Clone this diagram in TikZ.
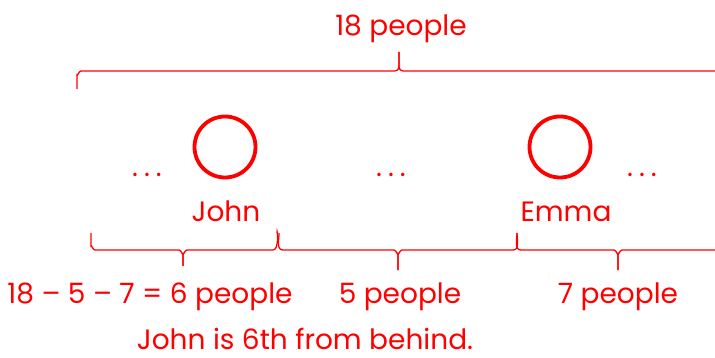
\documentclass[tikz,border=0pt]{standalone}
\usepackage{fontspec}
\setmainfont{Poppins}
\definecolor{cred}{RGB}{255,0,0}
\newcommand{\mydots}{.\hspace{6pt}.\hspace{6pt}.}
\begin{document}
\begin{tikzpicture}[x=1pt,y=-1pt,
  lbl/.style={text=cred,font=\fontsize{28}{32}\selectfont,inner sep=0pt,anchor=base},
  person/.style={circle,draw=cred,line width=3.8pt,minimum size=61pt,inner sep=0pt},
  brc/.style={draw=cred,line width=1.3pt}]
\useasboundingbox (0,0) rectangle (715,358);
% top label and brace
\node[lbl] (top) at (401,36) {18 people};
\coordinate (tl) at (77,89);
\coordinate (tt) at (399,52);
\coordinate (tr) at (720,71);
\draw[brc] (tl) -- (77,75) to[out=-90,in=180] (81,71) -- (395,71) to[out=0,in=-90] (399,67) -- (tt);
\draw[brc] (tt) -- (399,67) to[out=-90,in=180] (403,71) -- (tr);
% people
\node[person] (john) at (225,147) {};
\node[person] (emma) at (560,147) {};
\node[lbl] (d1) at (147,177) {\mydots};
\node[lbl] (d2) at (391,177) {\mydots};
\node[lbl] (d3) at (642,177) {\mydots};
\node[lbl] (jn) at (226,222) {John};
\node[lbl] (em) at (566,222) {Emma};
% bottom braces
\coordinate (a1) at (91,233);
\coordinate (at) at (183,266);
\coordinate (a2) at (277,233);
\draw[brc] (a1) -- (91,246) to[out=90,in=180] (95,250) -- (179,250) to[out=0,in=-90] (183,254) -- (at);
\draw[brc] (at) -- (183,254) to[out=-90,in=180] (187,250) -- (273,250) to[out=0,in=90] (a2);
\coordinate (b1) at (279,233);
\coordinate (bt) at (398,270);
\coordinate (b2) at (517,233);
\draw[brc] (b1) to[out=-90,in=180] (283,250) -- (394,250) to[out=0,in=-90] (398,254) -- (bt);
\draw[brc] (bt) -- (398,254) to[out=-90,in=180] (402,250) -- (513,250) to[out=0,in=-90] (b2);
\coordinate (c1) at (517,233);
\coordinate (ct) at (618,270);
\coordinate (c2) at (720,250);
\draw[brc] (c1) to[out=-90,in=180] (521,250) -- (614,250) to[out=0,in=-90] (618,254) -- (ct);
\draw[brc] (ct) -- (618,254) to[out=-90,in=180] (622,250) -- (c2);
% bottom labels
\node[lbl] (l1) at (150,303) {18 – 5 – 7 = 6 people};
\node[lbl] (l2) at (400,303) {5 people};
\node[lbl] (l3) at (618,303) {7 people};
\node[lbl] (con) at (305,349) {John is 6th from behind.};
\end{tikzpicture}
\end{document}
